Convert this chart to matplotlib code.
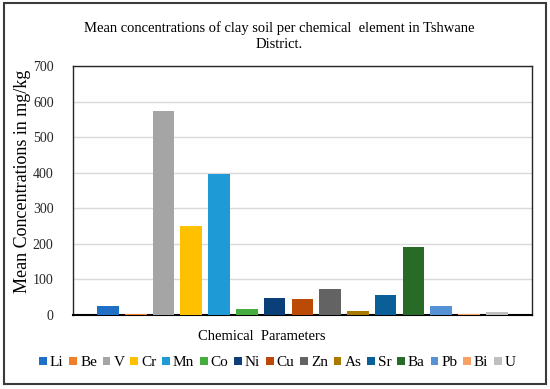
import matplotlib
matplotlib.use("Agg")
import matplotlib.pyplot as plt
from matplotlib.patches import Rectangle

elements = ["Li", "Be", "V", "Cr", "Mn", "Co", "Ni", "Cu", "Zn", "As", "Sr", "Ba", "Pb", "Bi", "U"]
values = [24, 3, 574, 249, 396, 15, 47, 43, 73, 10, 56, 190, 24, 2, 8]
colors = ["#1F6FC6", "#F07F2A", "#A5A5A5", "#FFC000", "#1E9BD7", "#45AD3F", "#0A3F7A",
          "#BA4A05", "#636363", "#A87B00", "#0A5F99", "#276B26", "#5592D5", "#F9A066", "#BFBFBF"]
yticks = [0, 100, 200, 300, 400, 500, 600, 700]

plt.rcParams['font.family'] = ['Liberation Serif', 'DejaVu Serif']

W, H = 550, 389
fig = plt.figure(figsize=(W / 100, H / 100), dpi=100)
ax = fig.add_axes([73 / W, 1 - 314.7 / H, (531.7 - 73) / W, (314.7 - 66) / H])

for i, (el, v, c) in enumerate(zip(elements, values, colors)):
    ax.bar(i, v, width=0.78, color=c, label=el, zorder=3)

ax.set_xlim(-1.26, len(elements) - 1 + 1.26)
ax.set_ylim(0, 700)
ax.set_yticks(yticks)
ax.set_xticks([])
ax.tick_params(axis='y', length=0, pad=14, labelsize=10, colors='#262626')
ax.grid(axis='y', color='#D9D9D9', linewidth=1.0, zorder=0)
for s in ['top', 'right', 'left']:
    ax.spines[s].set_linewidth(1.0)
    ax.spines[s].set_color('#262626')
ax.spines['bottom'].set_linewidth(1.5)
ax.spines['bottom'].set_color('black')

fig.text(279.5 / W, 1 - 28 / H, "Mean concentrations of clay soil per chemical  element in Tshwane",
         ha='center', va='center', fontsize=10.5)
fig.text(279.5 / W, 1 - 44 / H, "District.", ha='center', va='center', fontsize=10.5)
fig.text(23 / W, 1 - 181 / H, "Mean Concentrations in mg/kg", rotation=90,
         ha='center', va='center', fontsize=13)
fig.text(261.5 / W, 1 - 337 / H, "Chemical  Parameters", ha='center', va='center', fontsize=10.5)

handles, labels = ax.get_legend_handles_labels()
leg = fig.legend(handles, labels, loc='center', bbox_to_anchor=(277.5 / W, 1 - 363 / H),
                 ncol=15, frameon=False, fontsize=11, handlelength=0.5, handleheight=0.5,
                 handletextpad=0.2, columnspacing=0.38, borderaxespad=0, borderpad=0)

fig.patches.append(Rectangle((4 / W, 1 - 384 / H), 542 / W, 381 / H, transform=fig.transFigure,
                             fill=False, edgecolor='#3A3A3A', linewidth=1.5))

fig.savefig("out.png", dpi=100)
